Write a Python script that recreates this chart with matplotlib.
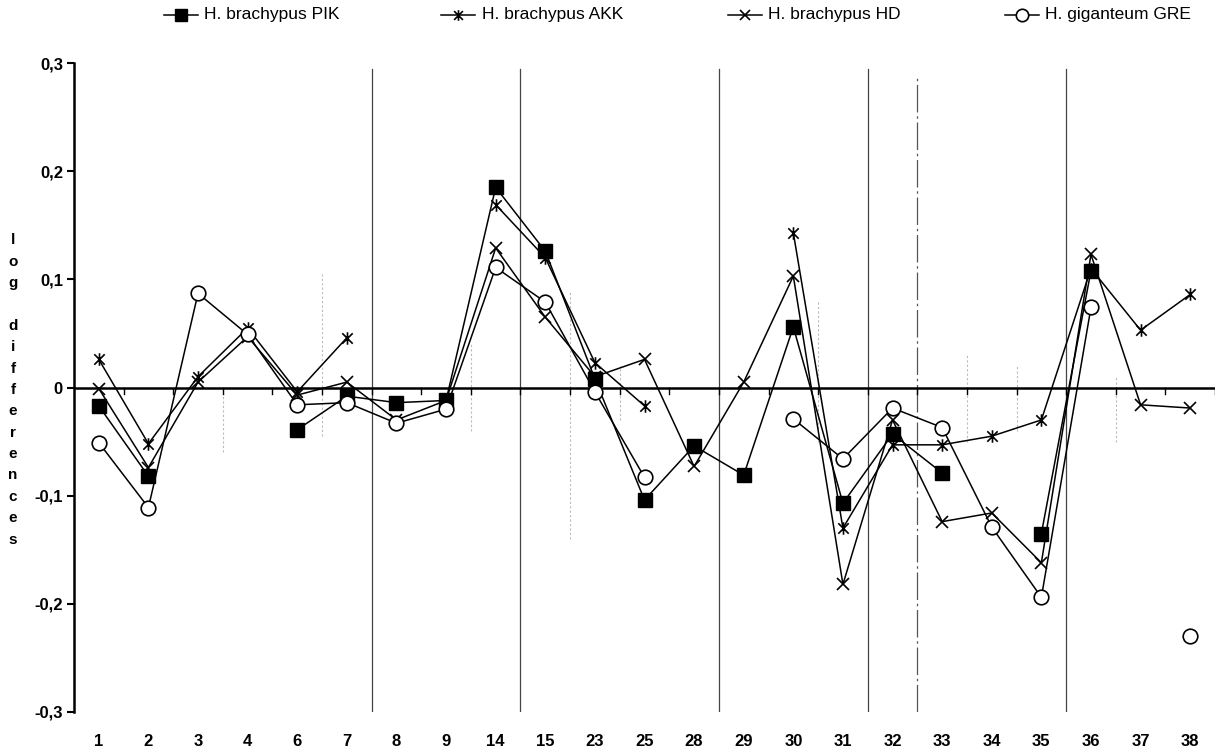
import numpy as np
import matplotlib
matplotlib.use("Agg")
import matplotlib.pyplot as plt
from matplotlib.lines import Line2D
from matplotlib.path import Path

nan = np.nan

categories = ["1", "2", "3", "4", "6", "7", "8", "9", "14", "15", "23", "25",
              "28", "29", "30", "31", "32", "33", "34", "35", "36", "37", "38"]

pik = [-0.017, -0.082, nan, nan, -0.039, -0.008, -0.014, -0.012, 0.185, 0.126,
       0.008, -0.104, -0.054, -0.081, 0.056, -0.107, -0.043, -0.079, nan,
       -0.135, 0.108, nan, nan]
akk = [0.026, -0.052, 0.010, 0.055, -0.004, 0.046, nan, nan, 0.169, 0.120,
       0.023, -0.017, nan, nan, 0.143, -0.130, -0.053, -0.053, -0.045,
       -0.030, 0.110, 0.053, 0.086]
hd = [-0.001, -0.074, 0.005, 0.047, -0.007, 0.005, -0.030, -0.012, 0.129,
      0.065, 0.010, 0.026, -0.073, 0.005, 0.103, -0.182, -0.030, -0.124,
      -0.116, -0.162, 0.123, -0.016, -0.019]
gre = [-0.051, -0.111, 0.087, 0.049, -0.016, -0.014, -0.033, -0.020, 0.111,
       0.079, -0.004, -0.083, nan, nan, -0.029, -0.066, -0.019, -0.037,
       -0.129, -0.194, 0.074, nan, -0.230]

series_names = ["H. brachypus PIK", "H. brachypus AKK",
                "H. brachypus HD", "H. giganteum GRE"]
y_ticks = [0.3, 0.2, 0.1, 0.0, -0.1, -0.2, -0.3]
y_tick_labels = ["0,3", "0,2", "0,1", "0", "-0,1", "-0,2", "-0,3"]

# group separators (index of the gap between categories)
solid_separators = [6, 9, 13, 16, 20]
dashdot_separators = [17]

# asterisk marker: an X with a vertical bar through it
asterisk = Path([(-1, -1), (1, 1), (-1, 1), (1, -1), (0, -1.2), (0, 1.2)],
                [Path.MOVETO, Path.LINETO, Path.MOVETO, Path.LINETO,
                 Path.MOVETO, Path.LINETO])

styles = [
    dict(marker="s", ms=9.5, mfc="black", mec="black", mew=1.0),
    dict(marker=asterisk, ms=9, mfc="none", mec="black", mew=1.2),
    dict(marker="x", ms=9, mfc="none", mec="black", mew=1.2),
    dict(marker="o", ms=10.5, mfc="white", mec="black", mew=1.2),
]

W, H = 1223, 752
fig = plt.figure(figsize=(W / 100, H / 100), dpi=100)
ax = fig.add_axes([74 / W, 40 / H, (1215 - 74) / W, (712 - 63) / H])

x = np.arange(len(categories))
ax.set_xlim(-0.5, len(categories) - 0.5)
ax.set_ylim(-0.3, 0.3)

# group separators
for k in solid_separators:
    ax.axvline(k - 0.5, ymin=0, ymax=0.99, color="#444444", lw=0.9, zorder=1)
for k in dashdot_separators:
    ax.axvline(k - 0.5, ymin=0, ymax=0.98, color="#555555", lw=0.9,
               ls=(0, (22, 3, 2, 3)), zorder=1)

# faint partial guides
faint = [(5, -0.045, 0.105), (3, -0.06, 0.0), (8, -0.04, 0.04),
         (10, -0.14, 0.09), (11, -0.03, 0.02), (15, -0.05, 0.08),
         (18, -0.05, 0.03), (19, -0.04, 0.02), (21, -0.05, 0.01)]
for k, y0, y1 in faint:
    ax.plot([k - 0.5, k - 0.5], [y0, y1], color="#bbbbbb", lw=0.8,
            ls=(0, (2, 2)), zorder=1)

# zero line with category-boundary ticks
ax.axhline(0, color="black", lw=1.8, zorder=2)
for k in range(1, len(categories) + 1):
    ax.plot([k - 0.5, k - 0.5], [0, -0.006], color="black", lw=1.0, zorder=2)

for vals, st, name in zip([pik, akk, hd, gre], styles, series_names):
    ax.plot(x, vals, color="black", lw=1.1, label=name, zorder=3, **st)

# axes decoration
for s in ["top", "right", "bottom"]:
    ax.spines[s].set_visible(False)
ax.spines["left"].set_linewidth(1.8)
ax.spines["left"].set_bounds(-0.3, 0.3)

ax.set_yticks(y_ticks)
ax.set_yticklabels(y_tick_labels, fontsize=12, fontweight="bold",
                   family="Liberation Sans")
ax.tick_params(axis="y", length=5, width=1.5, pad=3)
ax.set_xticks(x)
ax.set_xticklabels(categories, fontsize=12, fontweight="bold",
                   family="Liberation Sans")
ax.tick_params(axis="x", length=0, pad=16)

# stacked vertical axis title
fig.text(13 / W, 1 - 390 / H, "\n".join("log differences"),
         ha="center", va="center", fontsize=11, fontweight="bold",
         family="Liberation Sans", linespacing=1.67)

# legend row
leg_y = 1 - 15 / H
marker_x = [181, 458, 745, 1022]
text_x = [204, 482, 768, 1045]
for st, name, mx, tx in zip(styles, series_names, marker_x, text_x):
    line = Line2D([(mx - 17) / W, (mx + 17) / W], [leg_y, leg_y],
                  transform=fig.transFigure, color="black", lw=1.1)
    fig.add_artist(line)
    mk = Line2D([mx / W], [leg_y], transform=fig.transFigure,
                color="black", lw=0, **{**st, "ms": st["ms"] * 0.85})
    fig.add_artist(mk)
    fig.text(tx / W, leg_y, name, ha="left", va="center", fontsize=12.5,
             family="Liberation Sans")

fig.savefig("out.png", dpi=100)
